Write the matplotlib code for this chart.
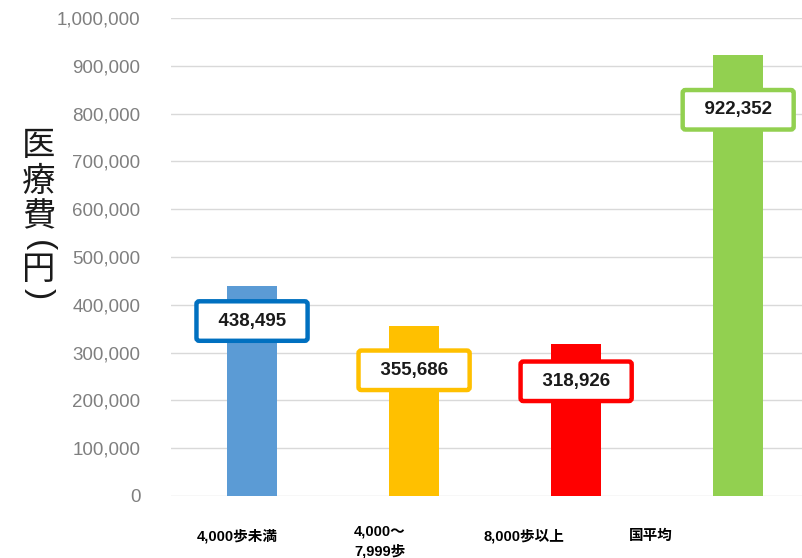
import matplotlib
matplotlib.use("Agg")
import matplotlib.pyplot as plt
import matplotlib.transforms as mtransforms
from matplotlib.ticker import FuncFormatter, MultipleLocator

plt.rcParams['font.family'] = ['Liberation Sans', 'Noto Sans CJK JP', 'DejaVu Sans']

categories = ["4,000歩未満", "4,000～\n7,999歩", "8,000歩以上", "国平均"]
values = [438495, 355686, 318926, 922352]
value_labels = ["438,495", "355,686", "318,926", "922,352"]
ylabel_chars = ["医", "療", "費", "(", "円", ")"]

bar_colors = ["#5B9BD5", "#FFC000", "#FF0000", "#92D050"]
box_colors = ["#0070C0", "#FFC000", "#FF0000", "#92D050"]
label_y = [366000, 263000, 240000, 808000]
cat_label_x = [-0.09, 0.79, 1.68, 2.46]
ylabel_px = [145, 181, 217, 246, 270, 294]

W, H = 803, 558
fig = plt.figure(figsize=(W / 100, H / 100), dpi=100)
ax = fig.add_axes([171 / W, 62 / H, 632 / W, 478 / H])

x = list(range(len(values)))
ax.bar(x, values, width=0.31, color=bar_colors, zorder=2)

ax.set_xlim(-0.5, 3.4)
ax.set_ylim(0, 1000000)
ax.yaxis.set_major_locator(MultipleLocator(100000))
ax.yaxis.set_major_formatter(FuncFormatter(lambda v, p: f"{int(v):,}"))
ax.grid(axis='y', color='#d9d9d9', linewidth=1, zorder=0)
ax.set_axisbelow(True)
for s in ax.spines.values():
    s.set_visible(False)
ax.tick_params(axis='y', length=0, pad=22, labelsize=13.5, labelcolor='#7f7f7f')

ax.set_xticks(cat_label_x)
ax.set_xticklabels(categories, fontsize=10.5, fontweight='bold', color='black', linespacing=1.5)
ax.tick_params(axis='x', length=0, pad=29)
for t in ax.get_xticklabels():
    t.set_va('center')
    if "\n" in t.get_text():
        off = mtransforms.ScaledTranslation(0, -5 / 100, fig.dpi_scale_trans)
        t.set_transform(t.get_transform() + off)

for xi, ly, lab, ec in zip(x, label_y, value_labels, box_colors):
    ax.text(xi, ly, "  " + lab + "  ", ha='center', va='center', fontsize=13.5,
            fontweight='bold', color='#1a1a1a', zorder=4,
            bbox=dict(boxstyle='round,pad=0.6,rounding_size=0.15', facecolor='white',
                      edgecolor=ec, linewidth=3.2))

for ch, py in zip(ylabel_chars, ylabel_px):
    if ch in "()":
        fig.text(39 / W, 1 - py / H, ch, ha='center', va='center', rotation=-90,
                 fontsize=24, family=['Liberation Sans'], color='#1a1a1a')
    else:
        fig.text(39 / W, 1 - py / H, ch, ha='center', va='center',
                 fontsize=24, family=['Noto Sans CJK JP'], color='#1a1a1a')

fig.savefig("out.png", dpi=100)
